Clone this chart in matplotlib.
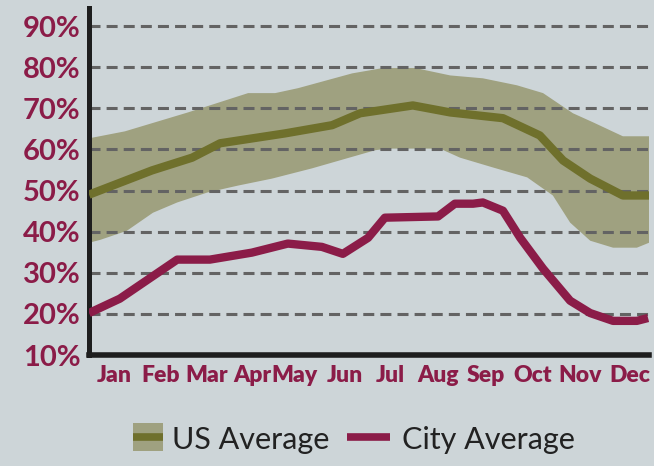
import matplotlib
matplotlib.use('Agg')
import matplotlib.pyplot as plt
from matplotlib.patches import Rectangle
from matplotlib.lines import Line2D

# Data (x in months from the left axis, y in %)
us_x = [0.0, 1.35, 2.21, 2.81, 4.20, 5.21, 5.81, 6.94, 7.74, 8.87, 9.66, 10.16, 10.74, 11.44, 12.0]
us_avg = [49.0, 54.9, 58.0, 61.5, 63.9, 65.9, 68.8, 70.7, 69.0, 67.6, 63.4, 57.3, 52.9, 48.8, 48.8]

band_hi_x = [0.0, 0.77, 2.12, 3.41, 3.99, 4.48, 5.64, 6.30, 6.99, 7.74, 8.44, 9.17, 9.73, 10.37, 10.80, 11.44, 12.0]
band_hi = [62.7, 64.4, 69.0, 73.7, 73.7, 74.9, 78.5, 79.8, 79.8, 78.0, 77.3, 75.6, 73.7, 68.8, 66.6, 63.2, 63.2]

band_lo_x = [0.0, 0.24, 0.81, 1.37, 1.89, 2.53, 3.19, 3.92, 4.78, 6.13, 6.39, 7.52, 7.95, 8.66, 9.39, 9.94, 10.31, 10.74, 11.23, 11.74, 12.0]
band_lo = [37.3, 38.0, 40.2, 44.6, 47.1, 49.5, 51.2, 52.9, 55.4, 59.8, 60.2, 60.2, 58.0, 55.6, 53.2, 48.8, 42.2, 37.8, 36.1, 36.1, 37.3]

city_x = [0.0, 0.66, 1.89, 2.59, 3.49, 4.26, 4.99, 5.44, 5.98, 6.34, 7.48, 7.84, 8.23, 8.44, 8.87, 9.24, 9.73, 10.31, 10.74, 11.23, 11.74, 11.98]
city_avg = [20.2, 23.7, 33.2, 33.2, 34.9, 37.1, 36.3, 34.6, 38.5, 43.4, 43.7, 46.8, 46.8, 47.1, 45.1, 38.5, 31.0, 23.2, 20.2, 18.3, 18.3, 19.0]

month_pos = [0.54, 1.54, 2.53, 3.49, 4.41, 5.49, 6.45, 7.48, 8.51, 9.51, 10.52, 11.59]
month_labels = ['Jan', 'Feb', 'Mar', 'Apr', 'May', 'Jun', 'Jul', 'Aug', 'Sep', 'Oct', 'Nov', 'Dec']
y_ticks = [10, 20, 30, 40, 50, 60, 70, 80, 90]

bg = '#cdd5d8'
band_color = '#9fa180'
us_color = '#6f702c'
city_color = '#8b1c48'

fig = plt.figure(figsize=(6.54, 4.66), dpi=100, facecolor=bg)
ax = fig.add_axes([89 / 654, 1 - 355 / 466, 560 / 654, 347 / 466])
ax.set_facecolor(bg)

# band + lines
ax.fill(band_hi_x + band_lo_x[::-1], band_hi + band_lo[::-1], color=band_color, lw=0, zorder=1)
for v in y_ticks[1:]:
    ax.axhline(v, color='#636363', lw=2.2, dashes=(3.6, 2.0), zorder=2)
ax.plot(us_x, us_avg, color=us_color, lw=6, solid_capstyle='butt', zorder=3)
ax.plot(city_x, city_avg, color=city_color, lw=6, solid_capstyle='butt', zorder=3)

ax.set_xlim(0, 12.0)
ax.set_ylim(10, 94.4)

for s in ['top', 'right']:
    ax.spines[s].set_visible(False)
ax.spines['left'].set_linewidth(3.6)
ax.spines['bottom'].set_linewidth(4.0)
ax.spines['left'].set_color('#1e1e1e')
ax.spines['bottom'].set_color('#1e1e1e')

ax.set_yticks(y_ticks)
ax.set_yticklabels([f'{v}%' for v in y_ticks])
ax.set_xticks(month_pos)
ax.set_xticklabels(month_labels)
ax.tick_params(axis='y', length=0, pad=6, labelsize=21, labelcolor=city_color)
ax.tick_params(axis='x', length=0, pad=7, labelsize=16.5, labelcolor=city_color)
for lab in ax.get_yticklabels():
    lab.set_fontfamily('Lato')
    lab.set_fontweight('bold')
for lab in ax.get_xticklabels():
    lab.set_fontfamily('Lato')
    lab.set_fontweight('heavy')

# legend drawn by hand in figure pixels
W, H = 654, 466
fig.patches.append(Rectangle((133 / W, 1 - 451 / H), 30 / W, 28 / H, transform=fig.transFigure,
                             facecolor=band_color, edgecolor='none'))
fig.lines.append(Line2D([133 / W, 163 / W], [1 - 437 / H] * 2, transform=fig.transFigure,
                        color=us_color, lw=5.5, solid_capstyle='butt'))
fig.text(172 / W, 1 - 440 / H, 'US Average', fontsize=22, family='Lato', color='#222222', va='center')
fig.lines.append(Line2D([347 / W, 390 / W], [1 - 437 / H] * 2, transform=fig.transFigure,
                        color=city_color, lw=5.5, solid_capstyle='butt'))
fig.text(402 / W, 1 - 440 / H, 'City Average', fontsize=22, family='Lato', color='#222222', va='center')

fig.savefig('out.png', dpi=100, facecolor=bg)
